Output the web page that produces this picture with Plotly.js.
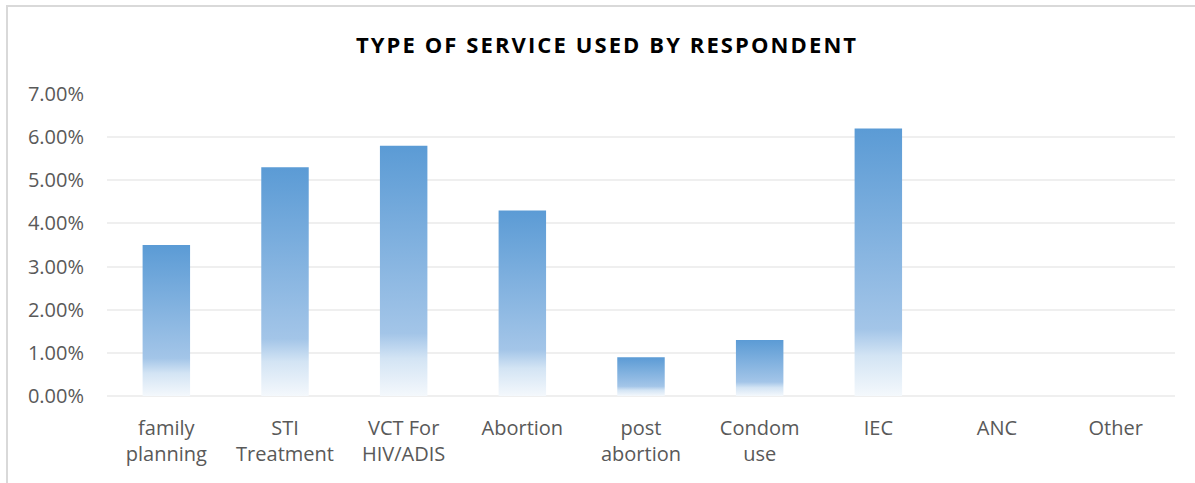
<!DOCTYPE html>
<html>
<head>
<meta charset="utf-8">
<script src="https://cdn.plot.ly/plotly-3.0.1.min.js"></script>
<style>
  html, body { margin: 0; padding: 0; background: #fff; }
  #wrap { position: relative; width: 1195px; height: 483px; overflow: hidden; }
  #chart { width: 1195px; height: 483px; }
  #frame { position: absolute; left: 6px; top: 5px; width: 1200px; height: 500px;
           border: 2px solid #d9d9d9; pointer-events: none; box-sizing: border-box; }
  .gtitle { letter-spacing: 2.1px; }
</style>
</head>
<body>
<div id="wrap">
  <div id="chart"></div>
  <div id="frame"></div>
</div>
<script>
// Data
const categories = ["family<br>planning", "STI<br>Treatment", "VCT For<br>HIV/ADIS", "Abortion",
                    "post<br>abortion", "Condom<br>use", "IEC", "ANC", "Other"];
const values = [0.035, 0.053, 0.058, 0.043, 0.009, 0.013, 0.062, 0, 0];
const yTicks = [0, 0.01, 0.02, 0.03, 0.04, 0.05, 0.06, 0.07];

const barHalf = 0.2;
const gradScale = [[0, '#f4f8fc'], [0.15, '#d3e4f4'], [0.25, '#a3c5e8'], [1, '#5b9bd5']];

const positions = categories.map((c, i) => i);
const traces = [];
values.forEach((v, i) => {
  if (v <= 0) return;
  const x = positions[i];
  traces.push({
    type: 'scatter',
    mode: 'lines',
    x: [x - barHalf, x + barHalf, x + barHalf, x - barHalf, x - barHalf],
    y: [0, 0, v, v, 0],
    fill: 'toself',
    fillgradient: { type: 'vertical', colorscale: gradScale, start: 0, stop: v },
    line: { width: 0, color: 'rgba(0,0,0,0)' },
    hoverinfo: 'skip',
    showlegend: false
  });
});

const fontFam = '"Open Sans", "Liberation Sans", sans-serif';
const layout = {
  width: 1195, height: 483,
  margin: { l: 107, r: 20, t: 94, b: 87 },
  paper_bgcolor: '#ffffff', plot_bgcolor: '#ffffff',
  title: {
    text: '<b>TYPE OF SERVICE USED BY RESPONDENT</b>',
    font: { family: fontFam, size: 22, color: '#000000' },
    x: 0.508, xanchor: 'center', y: 0.907, yanchor: 'middle'
  },
  xaxis: {
    type: 'linear', range: [-0.5, 8.5],
    tickvals: positions, ticktext: categories,
    showgrid: false, zeroline: false, showline: false, ticks: '',
    ticklabelstandoff: 18,
    tickfont: { family: fontFam, size: 20, color: '#595959' },
    fixedrange: true
  },
  yaxis: {
    range: [0, 0.07], tickvals: yTicks, tickformat: '.2%',
    showgrid: true, gridcolor: '#efefef', gridwidth: 2,
    zeroline: true, zerolinecolor: '#efefef', zerolinewidth: 2,
    showline: false, ticks: '',
    ticklabelstandoff: 22,
    tickfont: { family: fontFam, size: 20, color: '#595959' },
    fixedrange: true
  },
  showlegend: false
};

Plotly.newPlot('chart', traces, layout, { displayModeBar: false, staticPlot: true });
</script>
</body>
</html>
